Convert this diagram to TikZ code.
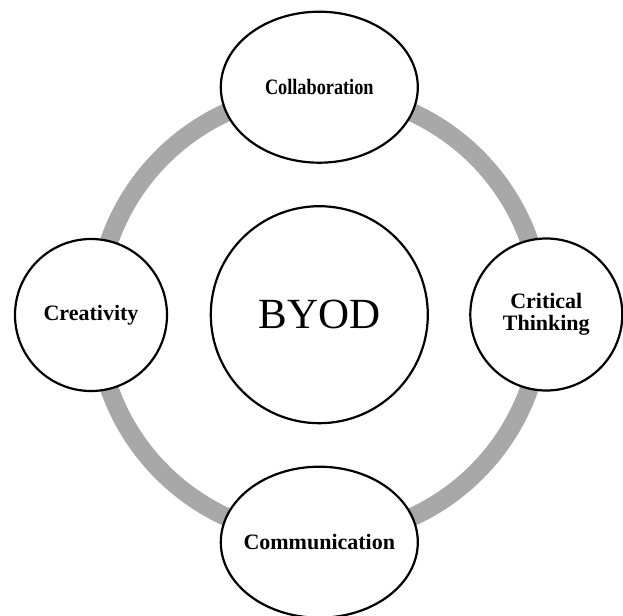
\documentclass[tikz,border=0pt]{standalone}
\usepackage{fontspec}
\setmainfont{Liberation Serif}
\usetikzlibrary{shapes.geometric}
\definecolor{ringgray}{RGB}{168,168,168}
\begin{document}
\begin{tikzpicture}[x=1pt,y=-1pt,
  bubble/.style={draw=black, line width=2.2pt, fill=white, inner sep=0pt, align=center,
                 font=\fontsize{22}{22}\selectfont\bfseries},
  ovalbox/.style={bubble, ellipse, minimum width=197pt, minimum height=151pt},
  roundbox/.style={bubble, circle, minimum size=152pt},
  hubbox/.style={bubble, circle, minimum size=217pt, font=\fontsize{43}{43}\selectfont},
  ringline/.style={draw=ringgray, line width=18.5pt}
]
\useasboundingbox (0,0) rectangle (623,615);
\coordinate (c) at (319.3,314.7);
\draw[ringline] (c) circle (222.5pt);
\node[hubbox] (byod) at (c) {BYOD};
\node[ovalbox] (collab) at (319.3,87.2) {\makebox[0pt]{\scalebox{0.83}[1]{Collaboration}}};
\node[ovalbox] (comm) at (319.3,542.2) {\makebox[0pt]{Communication}};
\node[roundbox] (creat) at (91,315) {Creativity};
\node[roundbox] (crit) at (546.3,314.5) {Critical\\Thinking};
\end{tikzpicture}
\end{document}
